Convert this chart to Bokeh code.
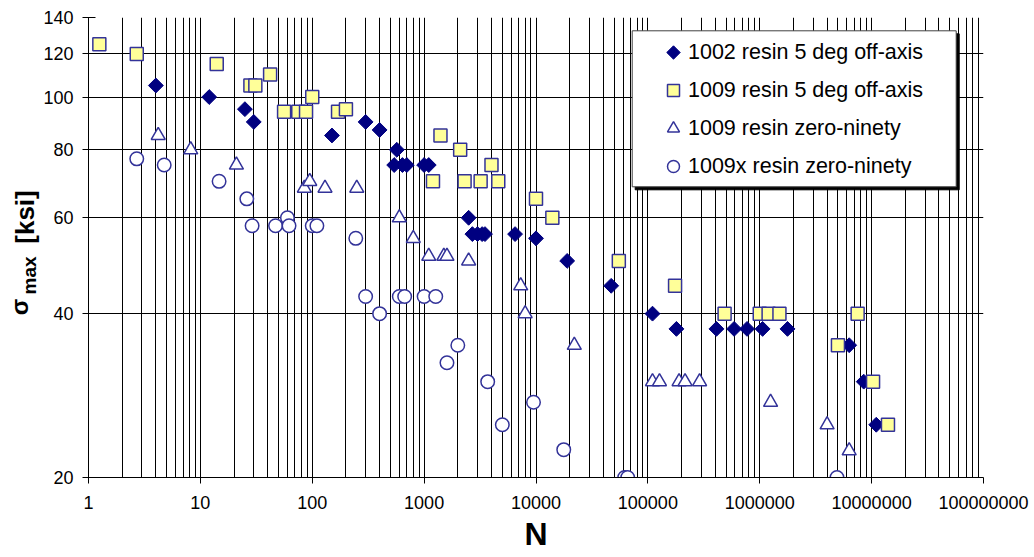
import math
from bokeh.plotting import figure
from bokeh.layouts import row
from bokeh.models import (Range1d, FixedTicker, CustomJSTickFormatter, Legend,
                          LegendItem, BoxAnnotation)
from bokeh.core.properties import value
from bokeh.embed import file_html
from bokeh.resources import INLINE

# ---------------- data ----------------
x_ticks = [1, 10, 100, 1000, 10000, 100000, 1000000, 10000000, 100000000]
y_ticks = [20, 40, 60, 80, 100, 120, 140]

s1_name = "1002 resin 5 deg off-axis"
s1_x = [4, 12, 25, 30, 150, 300, 400, 570, 540, 640, 700, 1000, 1100, 2500, 2700,
        3000, 3300, 3500, 6500, 10000, 19000, 47000, 110000, 180000, 410000,
        590000, 770000, 1060000, 1770000, 6300000, 8500000, 11000000]
s1_y = [105, 100, 95, 90, 85, 90, 87, 80, 75, 75, 75, 75, 75, 60, 56,
        56, 56, 56, 56, 55, 50, 45, 40, 37.5, 37.5,
        37.5, 37.5, 37.5, 37.5, 35, 30, 25]

s2_name = "1009 resin 5 deg off-axis"
s2_x = [1.25, 2.7, 14, 28, 31, 42, 56, 75, 88, 100, 170, 200, 1200, 1400, 2100,
        2300, 3200, 4000, 4600, 10000, 14000, 55000, 175000, 485000, 1000000,
        1200000, 1500000, 5000000, 7500000, 10300000, 14000000]
s2_y = [125, 120, 115, 105, 105, 110, 94, 94, 94, 100, 94, 95, 70, 85, 80,
        70, 70, 75, 70, 65, 60, 50, 45, 40, 40,
        40, 40, 35, 40, 30, 25]

s3_name = "1009 resin zero-ninety"
s3_x = [4.2, 8.2, 21, 85, 95, 130, 250, 600, 800, 1100, 1500, 1600, 2500, 7300,
        8000, 22000, 110000, 127000, 190000, 215000, 290000, 1250000, 4000000,
        6300000]
s3_y = [85, 80, 75, 68, 70, 68, 68, 60, 55, 51, 51, 51, 50, 45,
        40, 35, 30, 30, 30, 30, 30, 27.5, 25,
        22.4]

s4_name = "1009x resin zero-ninety"
s4_x = [2.7, 4.75, 14.7, 26, 29, 47, 60, 62, 100, 110, 245, 300, 400, 600, 670,
        1000, 1270, 1600, 2000, 3700, 5000, 9500, 17700, 62000, 66000, 4900000]
s4_y = [77, 75, 70, 65, 58, 58, 60, 58, 58, 58, 55, 43, 40, 43, 43,
        43, 43, 32.5, 35, 30, 25, 27.5, 22.5, 20, 20, 20]

x_title = "N"
y_title_parts = ["σ", "max", "[ksi]"]

# ---------------- main figure ----------------
STRIP_W = 40
FRAME_W, FRAME_H = 895, 460
TOP, BOTTOM = 17, 80
p = figure(width=1034 - STRIP_W, height=557, x_axis_type="log", y_axis_type="log",
           x_range=Range1d(1, 1e8), y_range=Range1d(20, 140),
           output_backend="svg", toolbar_location=None,
           min_border_left=88 - STRIP_W, min_border_right=51, min_border_top=TOP,
           min_border_bottom=BOTTOM)
p.outline_line_color = None
p.background_fill_color = "white"
p.border_fill_color = "white"

minor_x = [m * d for d in x_ticks[:-1] for m in range(2, 10)]
p.xaxis.ticker = FixedTicker(ticks=x_ticks, minor_ticks=minor_x)
p.yaxis.ticker = FixedTicker(ticks=y_ticks, minor_ticks=[])
p.xaxis.formatter = CustomJSTickFormatter(code="return Math.round(tick).toString();")
p.yaxis.formatter = CustomJSTickFormatter(code="return Math.round(tick).toString();")

for ax in (p.xaxis, p.yaxis):
    ax.axis_line_color = "black"
    ax.axis_line_width = 1
    ax.major_tick_line_color = "black"
    ax.minor_tick_line_color = None
    ax.major_label_text_color = "black"
    ax.major_label_text_font = "Liberation Sans"
    ax.major_label_text_font_size = "18px"
p.xaxis.major_tick_in = 0
p.xaxis.major_tick_out = 6
p.xaxis.major_label_standoff = 12
p.yaxis.major_tick_in = 7
p.yaxis.major_tick_out = 6
p.yaxis.major_label_standoff = 9

p.xaxis.axis_label = x_title
p.xaxis.axis_label_text_font = "Liberation Sans"
p.xaxis.axis_label_text_font_style = "bold"
p.xaxis.axis_label_text_font_size = "32px"
p.xaxis.axis_label_text_color = "black"
p.xaxis.axis_label_standoff = 4

p.xgrid.grid_line_color = "black"
p.xgrid.grid_line_width = 1
p.xgrid.minor_grid_line_color = "black"
p.xgrid.minor_grid_line_width = 1
p.ygrid.grid_line_color = "black"
p.ygrid.grid_line_width = 1

# ---------------- series ----------------
r1 = p.scatter(s1_x, s1_y, marker="square", angle=math.pi / 4, size=10.5,
               fill_color="#000080", line_color="#000080", line_width=1)
r2 = p.scatter(s2_x, s2_y, marker="square", size=13, fill_color="#FFFF99",
               line_color="#333399", line_width=1.5)
r3 = p.scatter(s3_x, s3_y, marker="triangle", size=14, fill_color="white",
               line_color="#333399", line_width=1.5)
r4 = p.scatter(s4_x, s4_y, marker="circle", size=13.5, fill_color="white",
               line_color="#333399", line_width=1.5)

# ---------------- legend ----------------
shadow = BoxAnnotation(left=546.7, right=870.7, top=443.7, bottom=287.7,
                       left_units="screen", right_units="screen",
                       top_units="screen", bottom_units="screen",
                       fill_color="black", fill_alpha=1, line_color="black",
                       line_alpha=1)
box = BoxAnnotation(left=543.7, right=867.7, top=446.7, bottom=290.7,
                    left_units="screen", right_units="screen",
                    top_units="screen", bottom_units="screen",
                    fill_color="white", fill_alpha=1, line_color="#404040",
                    line_alpha=1, line_width=1)
p.add_layout(shadow)
p.add_layout(box)

# invisible stand-in for the first key (the rotated key is drawn on top below)
r1_key = p.scatter([], [], marker="square", fill_alpha=0, line_alpha=0)

legend = Legend(items=[LegendItem(label=s1_name, renderers=[r1_key]),
                       LegendItem(label=s2_name, renderers=[r2]),
                       LegendItem(label=s3_name, renderers=[r3]),
                       LegendItem(label=s4_name, renderers=[r4])],
                location=(570, 296), glyph_width=30, glyph_height=30,
                label_height=30, label_standoff=0, spacing=8, padding=0,
                margin=0, border_line_color=None, background_fill_alpha=0,
                label_text_font="Liberation Sans", label_text_font_size="21.5px",
                label_text_color="black")
p.add_layout(legend)

# rotated-square key for the first legend row, placed at the legend key slot
key_px, key_py = 570 + 15, FRAME_H - 296 - 15 - 3 * 38   # frame pixels
key_x = 10 ** (8 * key_px / FRAME_W)
key_y = 20 * 7 ** ((FRAME_H - key_py) / FRAME_H)
p.scatter([key_x], [key_y], marker="square", angle=math.pi / 4, size=9.5,
          fill_color="#000080", line_color="#000080", line_width=1,
          level="overlay")

# ---------------- y-axis title (separate narrow strip, page-pixel coords) ----
t = figure(width=STRIP_W, height=557, title=None,
           x_range=Range1d(0, STRIP_W), y_range=Range1d(557 - BOTTOM, TOP),
           output_backend="svg", toolbar_location=None,
           min_border_left=0, min_border_right=0, min_border_top=TOP,
           min_border_bottom=BOTTOM,
           x_axis_location=None, y_axis_location=None)
t.outline_line_color = None
t.xgrid.visible = False
t.ygrid.visible = False
t.background_fill_color = "white"
t.border_fill_color = "white"
common = dict(angle=math.pi / 2, text_font=value("Liberation Sans"),
              text_font_style="bold", text_color="black",
              text_align="center", text_baseline="middle")
t.text(x=[18.7], y=[306.5], text=[y_title_parts[0]], text_font_size="24px", **common)
t.text(x=[29.4], y=[275.0], text=[y_title_parts[1]], text_font_size="19px", **common)
t.text(x=[24.5], y=[216.5], text=[y_title_parts[2]], text_font_size="26px", **common)

layout = row(t, p, spacing=0)
open("out.html", "w").write(file_html(layout, INLINE))
